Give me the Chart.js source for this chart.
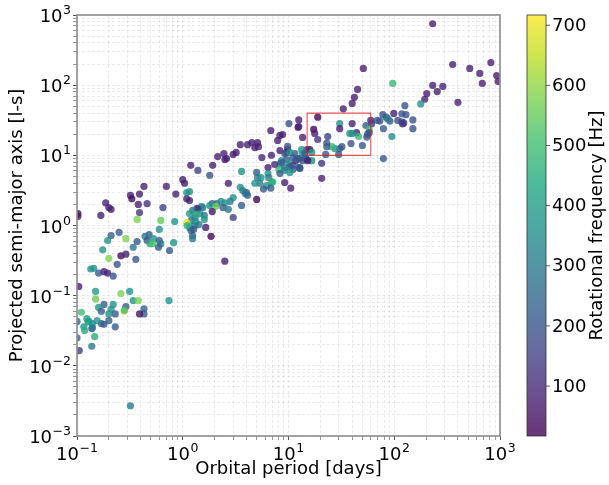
<!DOCTYPE html>
<html><head><meta charset="utf-8">
<script src="https://cdn.jsdelivr.net/npm/chart.js@4.4.1/dist/chart.umd.min.js"></script>
<style>html,body{margin:0;padding:0;background:#fff}#wrap{width:609px;height:485px}</style>
</head><body><div id="wrap"><canvas id="c" width="609" height="485"></canvas></div>
<script>
// Orbital period [days]
const periods = [231,357,518,820,644,930,960,680,400,231,288,255,203,194,178,126,118,129,150,118,123,108,120,150,
97,78,99,84,69,73,91,87,60,61,79,95,79,51,45,42,40,33,54,58,55,56,58,50,44,46,38,40,40,30.5,30.5,39,32,30.5,27.4,25.7,23,23,22.5,29.8,23.5,20.6,20.6,
18.9,17.3,17.7,18.9,13.6,12.5,12.5,10.1,15.9,14.9,16.6,16.6,13.3,12.8,13.6,14.9,12.8,8.8,9.8,12.3,
6.8,7.9,8.3,5.1,4.5,4.1,4.8,5.2,3.5,6.9,5.6,3.2,3.0,2.6,2.5,2.45,2.14,1.92,1.19,1.39,1.8,6.4,3.6,9.2,10.5,8.3,9.8,
8.3,8.6,9.6,10.1,10.3,11.0,11.7,12.5,11.0,12.3,10.3,9.2,8.1,8.3,7.4,9.6,13.6,14.6,15.2,11.5,9.2,10.3,11.0,8.6,9.2,12.8,14.3,
5.0,5.1,5.5,6.4,6.5,6.9,7.1,6.2,6.8,5.8,5.35,4.8,2.7,3.5,3.7,4.0,4.1,3.9,3.6,5.0,3.0,2.8,2.5,2.3,2.1,1.9,1.8,2.05,2.4,2.7,1.9,3.0,
1.5,1.55,1.39,1.36,1.24,1.45,1.6,1.3,1.16,1.2,1.6,1.65,1.85,1.24,1.24,1.16,1.16,1.09,1.16,1.2,1.1,1.3,
1.0,1.04,0.7,1.09,0.86,1.09,0.43,0.32,0.39,0.33,0.38,0.46,0.39,0.187,0.2,0.21,0.168,0.102,0.102,0.65,0.37,0.62,0.84,
0.6,0.48,0.44,0.46,0.53,0.49,0.52,0.6,0.62,0.59,0.82,0.75,0.37,0.34,0.36,0.25,0.21,0.195,0.175,0.29,0.2,0.26,0.29,0.24,2.5,
0.135,0.144,0.16,0.18,0.195,0.22,0.104,0.15,0.15,0.26,0.315,0.34,0.38,0.74,0.18,0.16,0.17,0.22,0.29,0.28,0.28,0.43,0.43,0.39,0.21,0.2,0.23,
0.11,0.1,0.13,0.127,0.14,0.17,0.18,0.2,0.23,0.116,0.118,0.138,0.14,0.147,0.138,0.105,0.1,0.32,0.124,0.155,
1.33,1.42,1.27,1.36];
// Projected semi-major axis [l-s]
const semiAxes = [750,197,173,210,147,137,113,106,57,99,96,81,76,63,54,51,39,38,32,30,29,31.4,28,24,
106,38,39.5,35,31.4,30.8,30.8,33,31.4,28,9.0,18.5,24,173,87,67,55,46,26.6,23.5,18.2,20,21,13.8,21,18.6,20.5,20.5,28.4,28.4,24,14.7,13.3,12.5,12.5,13.3,15,13.3,10.3,10.3,18.5,7.7,4.7,
35,23.4,20.5,16.8,18,32,25.7,28.4,12.1,12.1,11,8.4,12.1,9.0,8.4,8.7,6.7,19.8,12.1,25,
22.6,16.3,19.2,15.2,15.2,14.2,12.9,13.3,14.2,10,9.3,11,10.3,9.0,8.7,10.6,9.6,7.2,7.2,6.1,5.2,6.7,5.9,4.1,3.4,11.7,13.4,
7.6,8.4,8.7,7.6,6.9,7.2,8.4,6.7,6.3,9.0,5.7,6.1,6.3,5.5,7.4,11,10.6,9.0,8.4,10.6,10.6,11,9.3,7.9,6.7,6.5,10.6,
5.7,4.8,4.8,5.5,4.8,4.1,4.2,3.7,3.4,3.3,4.0,4.0,4.0,3.5,3.15,2.95,2.7,2.85,1.93,2.35,2.5,2.2,2.1,2.2,2.05,2.05,1.93,1.87,1.8,1.7,1.58,1.3,
1.87,1.8,1.7,1.75,1.64,1.48,1.39,1.3,1.48,1.18,1.22,0.94,0.7,0.72,0.65,3.05,2.27,1.1,0.94,0.85,1.0,1.0,
4.5,4.0,3.6,2.95,2.8,2.4,3.6,2.7,2.8,2.4,2.0,2.05,1.53,2.1,1.8,1.7,1.39,1.48,1.35,1.8,1.22,1.18,1.14,
0.88,0.74,0.7,0.61,0.65,0.55,0.55,0.61,0.55,0.49,0.57,0.44,0.59,0.49,0.33,0.8,0.72,0.61,0.45,0.65,0.34,0.37,0.39,0.28,0.31,
0.24,0.245,0.21,0.22,0.21,0.19,0.135,0.115,0.09,0.107,0.115,0.085,0.085,0.085,0.075,0.068,0.06,0.075,0.07,0.06,0.062,0.065,0.055,0.055,0.064,0.055,0.055,
0.058,0.043,0.043,0.042,0.04,0.04,0.039,0.044,0.036,0.036,0.032,0.034,0.035,0.026,0.019,0.0165,0.025,0.0027,0.047,0.044,
1.14,1.03,0.88,1.43];
// Rotational frequency [Hz]
const rotFreqs = [80,80,80,80,80,80,80,80,80,80,80,80,80,90,370,200,200,200,200,200,150,180,120,200,
480,200,80,220,200,200,220,300,80,150,200,360,220,80,80,80,80,80,220,500,200,200,200,200,80,480,380,380,80,380,80,200,200,200,380,480,200,220,200,200,150,130,90,
30,30,80,120,80,80,80,200,30,80,380,380,380,100,200,150,200,80,80,80,
80,80,80,80,80,80,80,80,80,80,100,80,80,80,80,80,80,80,80,150,200,80,380,80,80,80,200,
380,380,220,380,220,200,100,220,220,220,380,380,480,220,100,80,380,220,80,220,200,380,220,220,300,200,220,
220,300,380,380,300,500,450,380,220,220,300,380,80,380,300,220,220,300,220,30,380,300,380,380,300,220,380,560,220,300,60,150,
380,300,200,100,300,380,300,220,380,300,380,80,30,220,300,380,80,700,380,220,450,300,
80,80,80,380,80,80,80,80,80,40,80,120,130,80,80,80,80,40,60,150,580,550,380,
380,220,300,200,380,450,520,220,300,220,380,200,220,300,200,220,220,380,380,580,580,40,80,200,80,
380,380,220,80,80,200,80,400,560,580,380,380,580,380,220,380,220,380,220,700,500,220,220,60,380,380,220,
500,250,380,450,380,220,220,220,220,380,450,220,300,450,300,150,250,300,400,380,
380,300,220,450];

// highlighted box (period, semi-axis corners)
const boxPeriods = [15, 60, 60, 15, 15];
const boxAxes = [10, 10, 40, 40, 10];

// tick labels: base 10 with these exponents
const xTickExps = ['\u22121','0','1','2','3'];                 // 1e-1 .. 1e3
const yTickExps = ['\u22123','\u22122','\u22121','0','1','2','3']; // 1e-3 .. 1e3
const cbTicks = [100,200,300,400,500,600,700];
const cbMin = 17, cbMax = 717;

const VIR = [[68,1,84],[72,36,117],[65,68,135],[53,95,141],[42,120,142],[33,145,140],[34,168,132],[68,191,112],[122,209,81],[189,223,38],[253,231,37]];
function viridis(t){t=Math.max(0,Math.min(1,t));const s=t*10;const i=Math.min(9,Math.floor(s));const f=s-i;const a=VIR[i],b=VIR[i+1];return [0,1,2].map(k=>Math.round(a[k]+(b[k]-a[k])*f));}
function vcol(v,al){const c=viridis((v-cbMin)/(cbMax-cbMin));return `rgba(${c[0]},${c[1]},${c[2]},${al})`;}

const pts = periods.map((p,i)=>({x:p,y:semiAxes[i]}));
const cols = rotFreqs.map(f=>vcol(f,0.8));
const boxPts = boxPeriods.map((p,i)=>({x:p,y:boxAxes[i]}));

function logTicks(lo,hi){const t=[];for(let e=lo;e<hi;e++)for(let m=1;m<10;m++)t.push({value:m*Math.pow(10,e)});t.push({value:Math.pow(10,hi)});return t;}
function isMajor(v){const l=Math.log10(v);return Math.abs(l-Math.round(l))<1e-6;}
const FONT = "'DejaVu Sans', sans-serif";
const FS = 18;
const BASE = FS+'px '+FONT, SUP = '12.5px '+FONT;

function drawPow(ctx, exp, x, y, align){
  ctx.font=BASE; const wb=ctx.measureText('10').width;
  ctx.font=SUP; const we=ctx.measureText(exp).width;
  const tot=wb+we+0.5;
  let sx = align==='right' ? x-tot : x-tot/2;
  ctx.textAlign='left'; ctx.textBaseline='alphabetic';
  ctx.font=BASE; ctx.fillText('10',sx,y);
  ctx.font=SUP; ctx.fillText(exp,sx+wb+0.5,y-8);
}

const deco = {
  id:'deco',
  afterDatasetsDraw(chart){
    const {ctx, chartArea:a} = chart;
    ctx.save(); ctx.strokeStyle='#8c8c8c'; ctx.lineWidth=1.6;
    ctx.strokeRect(a.left,a.top,a.right-a.left,a.bottom-a.top); ctx.restore();
  },
  afterDraw(chart){
    const {ctx, chartArea:a, scales} = chart;
    ctx.save();
    ctx.fillStyle='#000';
    xTickExps.forEach((e,i)=>{ const px=scales.x.getPixelForValue(Math.pow(10,i-1)); drawPow(ctx,e,px,a.bottom+24,'center'); });
    yTickExps.forEach((e,i)=>{ const py=scales.y.getPixelForValue(Math.pow(10,i-3)); drawPow(ctx,e,a.left-6,py+7,'right'); });
    const x0 = a.right + 27, w = 19, top = a.top, bot = a.bottom, h = bot-top;
    const g = ctx.createLinearGradient(0,bot,0,top);
    for(let i=0;i<=20;i++){ g.addColorStop(i/20, vcol(cbMin+(cbMax-cbMin)*i/20,0.8)); }
    ctx.fillStyle=g; ctx.fillRect(x0,top,w,h);
    ctx.strokeStyle='#333'; ctx.lineWidth=0.8; ctx.strokeRect(x0,top,w,h);
    ctx.fillStyle='#000'; ctx.font=BASE; ctx.textAlign='left'; ctx.textBaseline='middle';
    cbTicks.forEach(v=>{
      const y = bot - (v-cbMin)/(cbMax-cbMin)*h;
      ctx.beginPath(); ctx.moveTo(x0+w,y); ctx.lineTo(x0+w+4,y); ctx.strokeStyle='#333'; ctx.lineWidth=0.8; ctx.stroke();
      ctx.fillText(String(v), x0+w+6, y+1);
    });
    ctx.translate(597,(top+bot)/2); ctx.rotate(-Math.PI/2);
    ctx.textAlign='center'; ctx.fillText('Rotational frequency [Hz]',0,0);
    ctx.restore();
  }
};

new Chart(document.getElementById('c'),{
  type:'scatter',
  data:{datasets:[
    {data:pts, backgroundColor:cols, borderColor:cols, borderWidth:0, pointRadius:3.6, pointHoverRadius:3.6, clip:0, order:2},
    {data:boxPts, showLine:true, borderColor:'rgba(220,30,30,0.75)', borderWidth:1.1, pointRadius:0, fill:false, clip:0, order:1}
  ]},
  options:{
    responsive:false, animation:false,
    layout:{padding:{top:15,right:109,left:0,bottom:0}},
    plugins:{legend:{display:false},tooltip:{enabled:false}},
    scales:{
      x:{type:'logarithmic',min:0.1,max:1000,
        afterBuildTicks:s=>{s.ticks=logTicks(-1,3);},
        afterFit:s=>{s.height=49;},
        ticks:{autoSkip:false,maxRotation:0,padding:3,color:'#000',font:{family:FONT,size:15},callback:()=>''},
        grid:{color:'rgba(0,0,0,0.08)',tickLength:4,tickColor:c=>isMajor(c.tick.value)?'#555':'#999'},
        border:{display:false,dash:[3,2]},
        title:{display:true,text:'Orbital period [days]',color:'#000',font:{family:FONT,size:FS},padding:{top:2,bottom:5}}
      },
      y:{type:'logarithmic',min:0.001,max:1000,
        afterBuildTicks:s=>{s.ticks=logTicks(-3,3);},
        afterFit:s=>{s.width=77;},
        ticks:{autoSkip:false,padding:3,color:'#000',font:{family:FONT,size:15},callback:()=>''},
        grid:{color:'rgba(0,0,0,0.08)',tickLength:4,tickColor:c=>isMajor(c.tick.value)?'#555':'#999'},
        border:{display:false,dash:[3,2]},
        title:{display:true,text:'Projected semi-major axis [l-s]',color:'#000',font:{family:FONT,size:FS},padding:{top:7,bottom:2}}
      }
    }
  },
  plugins:[deco]
});
</script></body></html>
